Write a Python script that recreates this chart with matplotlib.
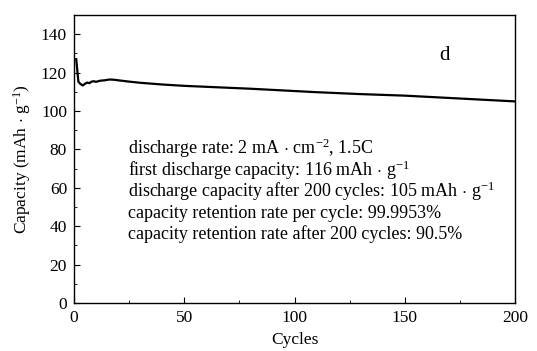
import matplotlib
matplotlib.use("Agg")
import matplotlib.pyplot as plt
from matplotlib.ticker import MultipleLocator

plt.rcParams['font.family'] = ['Liberation Serif', 'DejaVu Serif']
plt.rcParams['mathtext.fontset'] = 'custom'
plt.rcParams['mathtext.rm'] = 'Liberation Serif'
plt.rcParams['mathtext.it'] = 'Liberation Serif:italic'
plt.rcParams['mathtext.bf'] = 'Liberation Serif:bold'

cycles = [1, 2, 3, 4, 5, 6, 7, 8, 9, 10, 12, 14, 16, 18, 20, 25, 30, 40, 50, 60, 70,
          80, 90, 100, 110, 120, 130, 140, 150, 160, 170, 180, 190, 200]
capacity = [127.0, 115.2, 114.0, 113.3, 114.2, 114.8, 114.5, 115.3, 115.5, 115.2, 115.8,
            116.0, 116.4, 116.3, 116.0, 115.3, 114.7, 113.8, 113.1, 112.6, 112.1,
            111.6, 111.0, 110.4, 109.8, 109.3, 108.8, 108.4, 108.0, 107.4, 106.8,
            106.2, 105.6, 105.0]

notes = [
    r"discharge rate: 2 mA$\,\cdot\,$cm$^{-2}$, 1.5C",
    r"first discharge capacity: 116 mAh$\,\cdot\,$g$^{-1}$",
    r"discharge capacity after 200 cycles: 105 mAh$\,\cdot\,$g$^{-1}$",
    "capacity retention rate per cycle: 99.9953%",
    "capacity retention rate after 200 cycles: 90.5%",
]

fig = plt.figure(figsize=(5.37, 3.51), dpi=100)
ax = fig.add_axes([74/537, 1-303/351, 441/537, 288/351])
ax.plot(cycles, capacity, color='black', lw=1.6)
ax.set_xlim(0, 200)
ax.set_ylim(0, 150)
ax.xaxis.set_major_locator(MultipleLocator(50))
ax.xaxis.set_minor_locator(MultipleLocator(25))
ax.yaxis.set_major_locator(MultipleLocator(20))
ax.yaxis.set_minor_locator(MultipleLocator(10))
ax.tick_params(which='both', direction='in', top=False, right=False, labelsize=12.5, pad=5)
ax.tick_params(which='major', length=4)
ax.tick_params(which='minor', length=2.5)
ax.set_yticks([0, 20, 40, 60, 80, 100, 120, 140])
for s in ax.spines.values():
    s.set_linewidth(1.0)
ax.set_xlabel("Cycles", fontsize=12.5, labelpad=4)
ax.set_ylabel(r"Capacity (mAh$\,\cdot\,$g$^{-1}$)", fontsize=12.5, labelpad=6)

ax.text(0.84, 0.86, "d", transform=ax.transAxes, fontsize=15, ha='center', va='center')
y0 = 154.3
for i, t in enumerate(notes):
    yp = y0 + 21.2 * i
    fig.text(128/537, 1 - yp/351, t, fontsize=13, ha='left', va='baseline')

fig.savefig("out.png", dpi=100)
